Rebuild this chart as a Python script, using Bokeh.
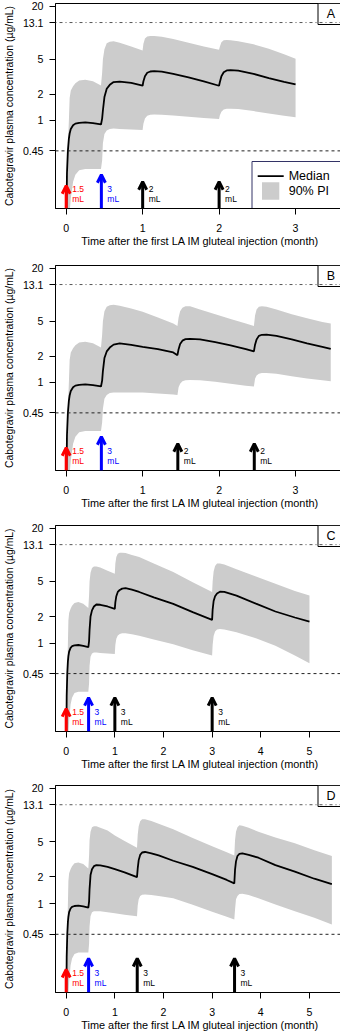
import math
from bokeh.plotting import figure
from bokeh.models import Range1d, FixedTicker, CustomJSTickFormatter, Span, Arrow, OpenHead
from bokeh.layouts import column
from bokeh.embed import file_html
from bokeh.resources import INLINE
from bokeh.core.properties import value

# ---------------- data ----------------
y_ticks = [0.45, 1, 2, 5, 13.1, 20]
lloq = 0.45
cmax_line = 13.1

# common loading phase (first 0.46 month)
init_time = [0, 0.01, 0.022, 0.035, 0.045, 0.06, 0.09, 0.12, 0.17, 0.25, 0.35, 0.455]
init_median = [0.05, 0.25, 0.45, 0.62, 0.71, 0.80, 0.88, 0.92, 0.94, 0.95, 0.93, 0.90]
init_upper = [0.05, 0.2, 0.5, 1.0, 1.8, 2.2, 2.45, 2.65, 2.85, 2.92, 2.8, 2.5]
init_lower = [0.05, 0.05, 0.05, 0.06, 0.09, 0.13, 0.2, 0.24, 0.27, 0.28, 0.28, 0.28]

# Panel A
a_time = init_time + [0.47, 0.48, 0.50, 0.53, 0.57, 0.62, 0.70, 0.85, 0.999,
                      1.01, 1.03, 1.06, 1.10, 1.15, 1.25, 1.40, 1.60, 1.80, 1.999,
                      2.01, 2.03, 2.06, 2.10, 2.15, 2.25, 2.45, 2.65, 2.85, 3.0]
a_median = init_median + [1.05, 1.3, 1.85, 2.3, 2.55, 2.74, 2.78, 2.68, 2.49,
                          2.8, 3.2, 3.5, 3.62, 3.65, 3.6, 3.4, 3.1, 2.8, 2.49,
                          2.75, 3.2, 3.55, 3.72, 3.76, 3.7, 3.4, 3.05, 2.75, 2.58]
a_upper = init_upper + [3.5, 5.0, 6.5, 7.6, 7.9, 8.0, 7.7, 7.0, 6.3,
                        7.5, 8.6, 9.1, 9.2, 9.2, 9.0, 8.5, 7.7, 7.0, 6.4,
                        7.0, 7.8, 8.2, 8.3, 8.2, 8.0, 7.4, 6.6, 5.7, 5.05]
a_lower = init_lower + [0.35, 0.55, 0.7, 0.77, 0.80, 0.81, 0.80, 0.79, 0.78,
                        0.92, 1.05, 1.13, 1.16, 1.17, 1.16, 1.14, 1.1, 1.07, 1.04,
                        1.15, 1.26, 1.33, 1.36, 1.36, 1.35, 1.28, 1.2, 1.13, 1.09]
a_dose_time = [0, 0.46, 1, 2]
a_dose_vol = ["1.5", "3", "2", "2"]
a_dose_color = ["#ff0000", "#0000ff", "#000000", "#000000"]
a_arrow_tip = [0.18, 0.24, 0.20, 0.20]

# Panel B
b_time = init_time + [0.47, 0.48, 0.50, 0.53, 0.57, 0.62, 0.70, 0.85, 1.0, 1.2, 1.4, 1.455,
                      1.47, 1.49, 1.52, 1.56, 1.62, 1.75, 1.95, 2.15, 2.35, 2.455,
                      2.47, 2.49, 2.52, 2.56, 2.62, 2.75, 2.95, 3.15, 3.35, 3.46]
b_median = init_median + [1.05, 1.35, 1.9, 2.26, 2.5, 2.70, 2.79, 2.68, 2.55, 2.4, 2.2, 2.05,
                          2.4, 2.75, 3.0, 3.12, 3.15, 3.1, 2.88, 2.65, 2.4, 2.26,
                          2.7, 3.1, 3.4, 3.5, 3.52, 3.4, 3.1, 2.8, 2.55, 2.41]
b_upper = init_upper + [3.5, 5.0, 6.5, 7.3, 7.6, 7.7, 7.5, 7.0, 6.4, 5.5, 4.7, 4.4,
                        5.5, 6.5, 7.1, 7.4, 7.4, 6.8, 6.0, 5.3, 4.7, 4.4,
                        5.8, 6.8, 7.3, 7.4, 7.3, 6.8, 6.0, 5.4, 4.9, 4.7]
b_lower = init_lower + [0.35, 0.5, 0.65, 0.72, 0.76, 0.77, 0.77, 0.77, 0.77, 0.75, 0.73, 0.72,
                        0.88, 0.97, 1.03, 1.06, 1.07, 1.06, 1.02, 0.97, 0.92, 0.90,
                        1.1, 1.2, 1.26, 1.28, 1.28, 1.26, 1.18, 1.11, 1.06, 1.03]
b_dose_time = [0, 0.46, 1.46, 2.46]
b_dose_vol = ["1.5", "3", "2", "2"]
b_dose_color = ["#ff0000", "#0000ff", "#000000", "#000000"]
b_arrow_tip = [0.18, 0.24, 0.20, 0.20]

# Panel C
c_time = init_time + [0.47, 0.48, 0.50, 0.53, 0.57, 0.62, 0.70, 0.85, 0.999,
                      1.01, 1.03, 1.06, 1.10, 1.15, 1.22, 1.35, 1.5, 1.8, 2.2, 2.6, 2.999,
                      3.01, 3.03, 3.06, 3.10, 3.16, 3.25, 3.5, 3.9, 4.3, 4.7, 5.0]
c_median = init_median + [1.05, 1.4, 2.0, 2.35, 2.6, 2.74, 2.72, 2.6, 2.44,
                          2.9, 3.4, 3.8, 4.0, 4.15, 4.2, 4.05, 3.8, 3.3, 2.78, 2.24, 1.83,
                          2.4, 3.0, 3.4, 3.65, 3.82, 3.8, 3.45, 2.8, 2.28, 1.95, 1.75]
c_upper = init_upper + [3.5, 5.0, 6.3, 7.1, 7.4, 7.4, 7.2, 6.6, 6.1,
                        8.0, 9.5, 10.3, 10.6, 10.6, 10.5, 10.0, 9.5, 8.0, 6.4, 4.9, 3.8,
                        5.0, 6.5, 7.5, 8.0, 8.0, 7.8, 6.9, 5.7, 4.7, 3.9, 3.47]
c_lower = init_lower + [0.35, 0.55, 0.7, 0.76, 0.78, 0.78, 0.77, 0.76, 0.75,
                        0.95, 1.12, 1.22, 1.27, 1.29, 1.29, 1.26, 1.21, 1.1, 0.97, 0.83, 0.72,
                        0.95, 1.2, 1.35, 1.42, 1.44, 1.42, 1.33, 1.13, 0.93, 0.72, 0.59]
c_dose_time = [0, 0.46, 1, 3]
c_dose_vol = ["1.5", "3", "3", "3"]
c_dose_color = ["#ff0000", "#0000ff", "#000000", "#000000"]
c_arrow_tip = [0.18, 0.24, 0.24, 0.24]

# Panel D
d_time = init_time + [0.47, 0.48, 0.50, 0.53, 0.57, 0.62, 0.70, 0.85, 1.0, 1.2, 1.455,
                      1.47, 1.49, 1.52, 1.56, 1.62, 1.75, 1.9, 2.2, 2.6, 3.0, 3.3, 3.455,
                      3.47, 3.49, 3.52, 3.56, 3.62, 3.75, 3.95, 4.3, 4.7, 5.1, 5.46]
d_median = init_median + [1.05, 1.45, 2.1, 2.45, 2.65, 2.72, 2.7, 2.6, 2.45, 2.25, 1.99,
                          2.5, 3.1, 3.55, 3.78, 3.83, 3.7, 3.5, 3.05, 2.6, 2.15, 1.85, 1.69,
                          2.4, 3.0, 3.45, 3.65, 3.7, 3.55, 3.3, 2.72, 2.3, 1.91, 1.66]
d_upper = init_upper + [3.5, 5.2, 6.5, 7.3, 7.5, 7.5, 7.2, 6.7, 5.9, 5.1, 4.27,
                        6.0, 7.5, 8.5, 9.0, 9.0, 8.6, 8.0, 6.9, 5.5, 4.45, 3.8, 3.5,
                        5.2, 6.5, 7.3, 7.7, 7.6, 7.2, 6.5, 5.6, 4.8, 4.0, 3.45]
d_lower = init_lower + [0.35, 0.55, 0.72, 0.8, 0.82, 0.82, 0.82, 0.80, 0.78, 0.75, 0.72,
                        0.95, 1.12, 1.22, 1.26, 1.27, 1.25, 1.22, 1.15, 0.97, 0.81, 0.71, 0.66,
                        0.85, 1.12, 1.22, 1.28, 1.29, 1.25, 1.15, 0.98, 0.82, 0.69, 0.58]
d_dose_time = [0, 0.46, 1.46, 3.46]
d_dose_vol = ["1.5", "3", "3", "3"]
d_dose_color = ["#ff0000", "#0000ff", "#000000", "#000000"]
d_arrow_tip = [0.18, 0.24, 0.24, 0.24]

panel_tags = ["A", "B", "C", "D"]
x_ticks_short = [0, 1, 2, 3]
x_ticks_long = [0, 1, 2, 3, 4, 5]
legend_labels = ["Median", "90% PI"]
x_title = "Time after the first LA IM gluteal injection (month)"
y_title = "Cabotegravir plasma concentration (\u00b5g/mL)"

# ---------------- styling / layout ----------------
FONT = "Liberation Sans"
BAND = "#cccccc"
Y0, Y1 = 0.099, 21.6
FL, FW = 49, 289
LOGSPAN = math.log10(Y1) - math.log10(Y0)


def make_panel(tag, t, med, lo, hi, dt, dvol, dcol, tip, xticks, xr, top, fh, bottom, legend=False):
    x0, x1 = xr
    p = figure(frame_width=FW, frame_height=fh, x_range=Range1d(x0, x1), y_range=Range1d(Y0, Y1),
               y_axis_type="log", output_backend="svg", toolbar_location=None,
               min_border_left=FL, min_border_right=2, min_border_top=top, min_border_bottom=bottom)
    p.xgrid.visible = False
    p.ygrid.visible = False
    p.outline_line_color = "black"
    p.outline_line_width = 1
    p.outline_line_alpha = 1
    p.background_fill_color = "white"
    p.border_fill_color = "white"

    def xpx(d):  # d: px from frame left
        return x0 + d / FW * (x1 - x0)

    def ypx(u):  # u: px up from frame bottom
        return 10 ** (math.log10(Y0) + u / fh * LOGSPAN)

    # band + median
    p.varea(x=t, y1=lo, y2=hi, fill_color=BAND, fill_alpha=1)
    p.line(x=t, y=med, line_color="black", line_width=1.8)

    # reference lines
    p.add_layout(Span(location=lloq, dimension="width", line_color="#222222",
                      line_width=1, line_dash="3 3"))
    p.add_layout(Span(location=cmax_line, dimension="width", line_color="#555555",
                      line_width=1, line_dash="1 3 3 3"))

    # dose arrows
    for xt, yt, c in zip(dt, tip, dcol):
        p.add_layout(Arrow(end=OpenHead(size=8, line_width=3, line_color=c),
                           x_start=xt, y_start=Y0, x_end=xt, y_end=yt,
                           line_width=3, line_color=c))
    p.text(x=dt, y=[ypx(20)] * len(dt), text=dvol, text_color=dcol, x_offset=6,
           text_baseline="middle", text_align="left",
           text_font=value(FONT), text_font_size="8.5px")
    p.text(x=dt, y=[ypx(10)] * len(dt), text=["mL"] * len(dt), text_color=dcol, x_offset=6,
           text_baseline="middle", text_align="left",
           text_font=value(FONT), text_font_size="8.5px")

    # panel tag box
    p.quad(left=[xpx(FW - 26.5)], right=[x1], top=[Y1], bottom=[ypx(fh - 21)],
           fill_color="white", line_color="black", line_width=1)
    p.text(x=[xpx(FW - 13.5)], y=[ypx(fh - 10.5)], text=[tag], text_color="black",
           text_align="center", text_baseline="middle",
           text_font=value(FONT), text_font_size="12.5px")

    if legend:
        bl = FW - 92.5
        p.quad(left=[xpx(bl)], right=[x1], top=[ypx(47)], bottom=[Y0],
               fill_color="white", line_color="#333366", line_width=1)
        p.line(x=[xpx(bl + 5.7), xpx(bl + 31.7)], y=[ypx(32.3)] * 2,
               line_color="black", line_width=1.8)
        p.quad(left=[xpx(bl + 10)], right=[xpx(bl + 27.3)], top=[ypx(26.3)], bottom=[ypx(8.7)],
               fill_color=BAND, line_color=None)
        p.text(x=[xpx(bl + 36.7)] * 2, y=[ypx(32.5), ypx(17.5)], text=legend_labels,
               text_color="black", text_baseline="middle", text_align="left",
               text_font=value(FONT), text_font_size="12.5px")

    # axes
    p.xaxis.ticker = FixedTicker(ticks=xticks)
    p.yaxis.ticker = FixedTicker(ticks=y_ticks)
    p.yaxis.formatter = CustomJSTickFormatter(code="return String(tick);")
    p.xaxis.axis_label = x_title
    p.yaxis.axis_label = y_title
    for ax in (p.xaxis[0], p.yaxis[0]):
        ax.major_tick_out = 6
        ax.major_tick_in = 0
        ax.minor_tick_out = 0
        ax.minor_tick_in = 0
        ax.axis_line_color = "black"
        ax.major_tick_line_color = "black"
        ax.major_label_text_font = FONT
        ax.major_label_text_font_size = "10.6px"
        ax.major_label_text_color = "black"
        ax.axis_label_text_font = FONT
        ax.axis_label_text_font_style = "normal"
        ax.axis_label_text_color = "black"
    p.xaxis.axis_label_text_font_size = "10.9px"
    p.yaxis.axis_label_text_font_size = "10.4px"
    p.xaxis.major_label_standoff = 9
    p.xaxis.axis_label_standoff = 0
    p.yaxis.major_label_standoff = 6
    p.yaxis.axis_label_standoff = 5
    return p


pA = make_panel(panel_tags[0], a_time, a_median, a_lower, a_upper, a_dose_time, a_dose_vol,
                a_dose_color, a_arrow_tip, x_ticks_short, (-0.14, 3.64), 3, 205, 53, legend=True)
pB = make_panel(panel_tags[1], b_time, b_median, b_lower, b_upper, b_dose_time, b_dose_vol,
                b_dose_color, b_arrow_tip, x_ticks_short, (-0.14, 3.64), 4, 205, 50)
pC = make_panel(panel_tags[2], c_time, c_median, c_lower, c_upper, c_dose_time, c_dose_vol,
                c_dose_color, c_arrow_tip, x_ticks_long, (-0.22, 5.72), 5, 206, 49)
pD = make_panel(panel_tags[3], d_time, d_median, d_lower, d_upper, d_dose_time, d_dose_vol,
                d_dose_color, d_arrow_tip, x_ticks_long, (-0.22, 5.72), 5, 207, 40)

layout = column(pA, pB, pC, pD, spacing=0)
open("out.html", "w").write(file_html(layout, INLINE))
